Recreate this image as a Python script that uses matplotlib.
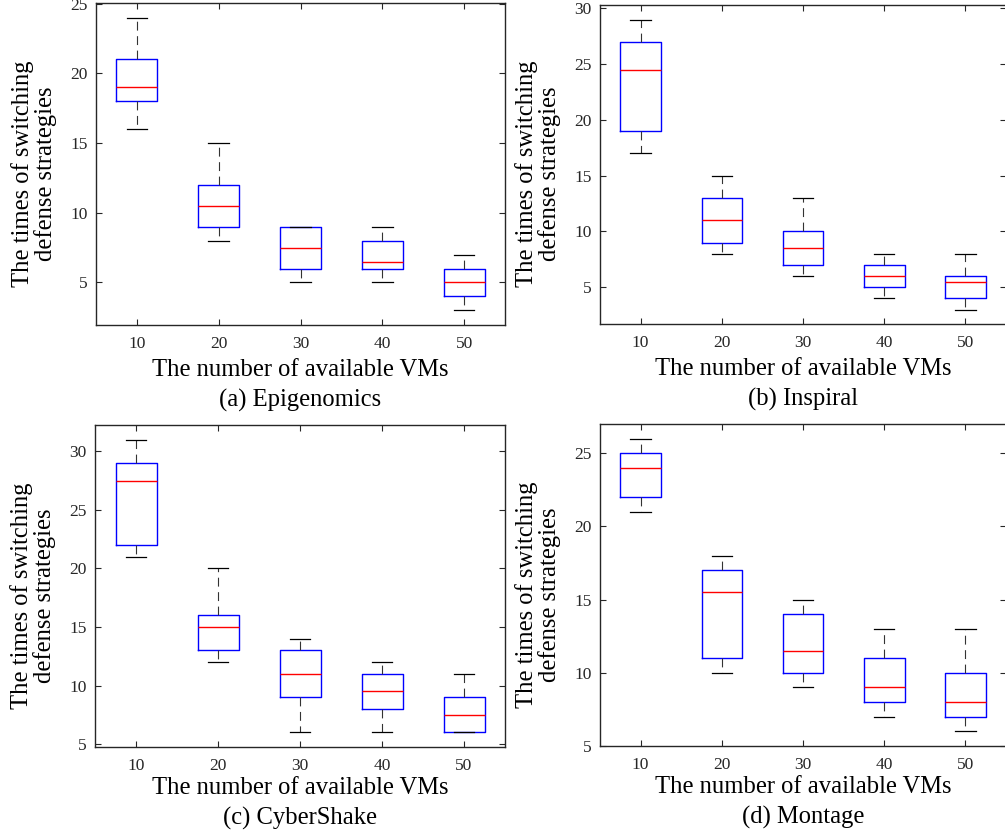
import numpy as np
import matplotlib
matplotlib.use('Agg')
import matplotlib.pyplot as plt

plt.rcParams['font.family'] = ['Liberation Serif', 'DejaVu Serif']

vms = ['10', '20', '30', '40', '50']
titles = ['(a) Epigenomics', '(b) Inspiral', '(c) CyberShake', '(d) Montage']

# per workflow: lower whisker, q1, median, q3, upper whisker
epi_lo = [16, 8, 5, 5, 3]
epi_q1 = [18, 9, 6, 6, 4]
epi_med = [19, 10.5, 7.5, 6.5, 5]
epi_q3 = [21, 12, 9, 8, 6]
epi_hi = [24, 15, 9, 9, 7]

insp_lo = [17, 8, 6, 4, 3]
insp_q1 = [19, 9, 7, 5, 4]
insp_med = [24.5, 11, 8.5, 6, 5.5]
insp_q3 = [27, 13, 10, 7, 6]
insp_hi = [29, 15, 13, 8, 8]

cyber_lo = [21, 12, 6, 6, 6]
cyber_q1 = [22, 13, 9, 8, 6]
cyber_med = [27.5, 15, 11, 9.5, 7.5]
cyber_q3 = [29, 16, 13, 11, 9]
cyber_hi = [31, 20, 14, 12, 11]

mont_lo = [21, 10, 9, 7, 6]
mont_q1 = [22, 11, 10, 8, 7]
mont_med = [24, 15.5, 11.5, 9, 8]
mont_q3 = [25, 17, 14, 11, 10]
mont_hi = [26, 18, 15, 13, 13]

series = [
    (epi_lo, epi_q1, epi_med, epi_q3, epi_hi),
    (insp_lo, insp_q1, insp_med, insp_q3, insp_hi),
    (cyber_lo, cyber_q1, cyber_med, cyber_q3, cyber_hi),
    (mont_lo, mont_q1, mont_med, mont_q3, mont_hi),
]

W, H = 1005, 834
# axes boxes in pixels: left, right, top, bottom
boxes = [(96, 505, 3, 325), (600, 1006, 5, 324),
         (95, 505, 425, 747), (600, 1006, 424, 746)]

fig = plt.figure(figsize=(W / 100, H / 100), dpi=100)

for i, (s, (l, r, t, b)) in enumerate(zip(series, boxes)):
    ax = fig.add_axes([l / W, 1 - b / H, (r - l) / W, (b - t) / H])
    lo, q1, med, q3, hi = s
    stats = []
    for k in range(len(vms)):
        stats.append(dict(whislo=lo[k], q1=q1[k], med=med[k], q3=q3[k],
                          whishi=hi[k], fliers=[]))
    ax.bxp(stats, positions=np.arange(1, 6), widths=0.5, capwidths=0.25,
           showfliers=False,
           boxprops=dict(color='blue', lw=1.0),
           medianprops=dict(color='red', lw=1.0),
           whiskerprops=dict(color='#333333', lw=0.8, linestyle=(0, (8, 5))),
           capprops=dict(color='black', lw=0.9))
    # MATLAB-like limits: data range plus 5% each side
    ymin = min(lo)
    ymax = max(hi)
    pad = 0.05 * (ymax - ymin)
    ax.set_ylim(ymin - pad, ymax + pad)
    ax.set_xlim(0.5, 5.5)
    ax.set_xticks(np.arange(1, 6))
    ax.set_xticklabels(vms)
    ax.set_yticks(np.arange(5, ymax + pad + 0.01, 5))
    ax.tick_params(direction='in', length=4, width=0.8, top=True, right=True,
                   labelsize=12.5, colors='#262626')
    ax.tick_params(axis='x', pad=8)
    ax.tick_params(axis='y', pad=6)
    for sp in ax.spines.values():
        sp.set_linewidth(1.0)
        sp.set_color('#262626')
    ax.set_ylabel('The times of switching\ndefense strategies', fontsize=17.7,
                  linespacing=1.0)
    ax.yaxis.set_label_coords(-39 / (r - l), 0.47)
    off = 45 if i < 2 else 41
    ax.text(0.5, -off / (b - t), 'The number of available VMs',
            transform=ax.transAxes, ha='center', va='center', fontsize=17.7)
    ax.text(0.5, -(off + 30) / (b - t), titles[i],
            transform=ax.transAxes, ha='center', va='center', fontsize=17.7)

plt.savefig('out.png', dpi=100)
